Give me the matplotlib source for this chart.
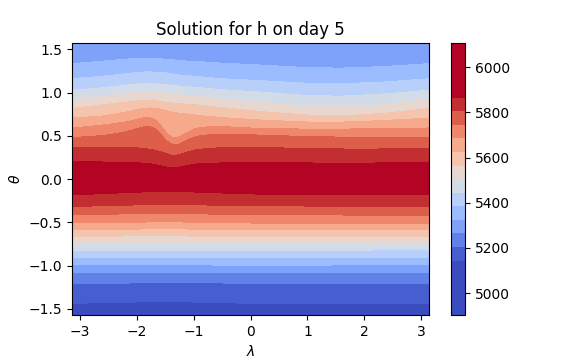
import numpy as np
import matplotlib
matplotlib.use("Agg")
import matplotlib.pyplot as plt

# ---- data ----
h_min, h_max = 4903.0, 6106.0          # colour-bar range
n_levels = 21                            # contour levels
levels = np.linspace(h_min, h_max, n_levels)
color_lo, color_hi = levels[4], levels[16]   # colour range (outer bands saturate)
cbar_ticks = [5000, 5200, 5400, 5600, 5800, 6000]

h_north_pole = 5295.0
h_equator = 6040.0
h_south_pole = 4950.0

# northern hemisphere: latitude of contour levels[16] .. levels[7] at these longitudes
lam_north = [-3.1416, -2.6, -2.2, -1.95, -1.8, -1.65, -1.5, -1.38, -1.25, -1.1,
             -0.9, -0.5, 0.2, 1.0, 1.6, 2.3, 3.1416]
theta_north = [
    [0.198, 0.198, 0.192, 0.187, 0.181, 0.164, 0.140, 0.122, 0.135, 0.160, 0.181, 0.187, 0.187, 0.187, 0.181, 0.187, 0.198],  # lev16
    [0.359, 0.371, 0.371, 0.359, 0.348, 0.331, 0.300, 0.265, 0.280, 0.320, 0.345, 0.365, 0.365, 0.354, 0.348, 0.348, 0.359],  # lev15
    [0.480, 0.503, 0.544, 0.596, 0.619, 0.585, 0.450, 0.385, 0.400, 0.460, 0.505, 0.521, 0.509, 0.492, 0.486, 0.480, 0.480],  # lev14
    [0.590, 0.624, 0.659, 0.699, 0.722, 0.690, 0.545, 0.460, 0.480, 0.550, 0.600, 0.607, 0.584, 0.578, 0.578, 0.584, 0.590],  # lev13
    [0.705, 0.728, 0.774, 0.809, 0.826, 0.820, 0.797, 0.774, 0.763, 0.751, 0.734, 0.711, 0.682, 0.659, 0.659, 0.676, 0.705],  # lev12
    [0.815, 0.861, 0.889, 0.907, 0.912, 0.907, 0.889, 0.878, 0.872, 0.866, 0.855, 0.826, 0.780, 0.740, 0.728, 0.757, 0.815],  # lev11
    [0.918, 0.953, 0.987, 1.005, 1.010, 1.005, 0.993, 0.987, 0.976, 0.964, 0.953, 0.924, 0.884, 0.843, 0.832, 0.861, 0.918],  # lev10
    [1.028, 1.056, 1.085, 1.103, 1.108, 1.103, 1.091, 1.085, 1.074, 1.068, 1.056, 1.033, 1.005, 0.964, 0.959, 0.982, 1.028],  # lev9
    [1.160, 1.189, 1.218, 1.235, 1.241, 1.235, 1.229, 1.218, 1.200, 1.195, 1.183, 1.160, 1.137, 1.108, 1.103, 1.120, 1.160],  # lev8
    [1.333, 1.362, 1.385, 1.396, 1.396, 1.391, 1.385, 1.379, 1.368, 1.362, 1.356, 1.339, 1.316, 1.287, 1.281, 1.298, 1.333],  # lev7
]
north_level_idx = [16, 15, 14, 13, 12, 11, 10, 9, 8, 7]

# southern hemisphere: latitude of contour levels[4] .. levels[16]
lam_south = [-3.1416, -1.5, 0.0, 3.1416]
theta_south = [
    [-1.438, -1.415, -1.438, -1.438],  # lev4
    [-1.207, -1.196, -1.202, -1.207],  # lev5
    [-1.084, -1.081, -1.084, -1.084],  # lev6
    [-0.988, -0.988, -0.997, -0.988],  # lev7
    [-0.904, -0.902, -0.904, -0.904],  # lev8
    [-0.827, -0.821, -0.827, -0.816],  # lev9
    [-0.738, -0.735, -0.750, -0.738],  # lev10
    [-0.662, -0.654, -0.669, -0.662],  # lev11
    [-0.585, -0.574, -0.585, -0.585],  # lev12
    [-0.508, -0.493, -0.508, -0.508],  # lev13
    [-0.412, -0.395, -0.412, -0.418],  # lev14
    [-0.317, -0.291, -0.309, -0.317],  # lev15
    [-0.182, -0.136, -0.171, -0.182],  # lev16
]
south_level_idx = list(range(4, 17))

# ---- build the field from the contour positions ----
lam = np.linspace(-np.pi, np.pi, 721)
th = np.linspace(-np.pi / 2, np.pi / 2, 541)


def smooth_periodic(y, width):
    n = y.size
    k = np.arange(-3 * width, 3 * width + 1)
    w = np.exp(-0.5 * (k / width) ** 2)
    w /= w.sum()
    ext = np.concatenate((y[-3 * width - 1:-1], y, y[1:3 * width + 1]))
    return np.convolve(ext, w, mode="valid")[:n]


north_t = np.array([smooth_periodic(np.interp(lam, lam_north, row), 8) for row in theta_north])
south_t = np.array([smooth_periodic(np.interp(lam, lam_south, row), 8) for row in theta_south])
north_v = levels[north_level_idx]
south_v = levels[south_level_idx]

H = np.empty((th.size, lam.size))
for j in range(lam.size):
    eq = 0.5 * (south_t[-1, j] + north_t[0, j])
    knots = np.concatenate(([-np.pi / 2], south_t[:, j], [eq], north_t[:, j], [np.pi / 2]))
    vals = np.concatenate(([h_south_pole], south_v, [h_equator], north_v, [h_north_pole]))
    H[:, j] = np.interp(th, knots, vals)

# ---- plot ----
fig = plt.figure(figsize=(5.76, 3.6), dpi=100)
ax = fig.add_subplot(111)
cs = ax.contourf(lam, th, H, levels=levels, cmap="coolwarm",
                 vmin=color_lo, vmax=color_hi)
cbar = fig.colorbar(cs, ax=ax)
cbar.set_ticks(cbar_ticks)
ax.set_title("Solution for h on day 5")
ax.set_xlabel(r"$\lambda$")
ax.set_ylabel(r"$\theta$")
fig.subplots_adjust(bottom=0.125)
fig.savefig("out.png", dpi=100)
